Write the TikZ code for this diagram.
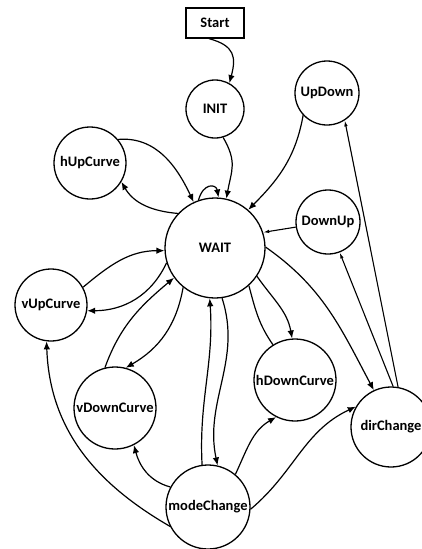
\documentclass[tikz,border=0pt]{standalone}
\usepackage{fontspec}
\setmainfont{Carlito}
\usetikzlibrary{arrows.meta}
\begin{document}
\begin{tikzpicture}[x=1pt,y=1pt,
  st/.style={circle,draw,line width=1.3pt,inner sep=0pt,font=\fontsize{14.5}{16}\selectfont\bfseries},
  edge/.style={line width=1.2pt,-{Latex[length=8pt,width=6.5pt]}},
  thinarr/.style={line width=1.1pt,-{Latex[length=6pt,width=3.5pt]}},
  plain/.style={line width=1.2pt}]
\useasboundingbox (0,0) rectangle (422,-549);
\node[draw,line width=1.3pt,minimum width=58pt,minimum height=30pt,inner sep=0pt,font=\fontsize{14.5}{16}\selectfont\bfseries] (start) at (215,-23) {Start};
\node[st,minimum size=58pt] (init) at (215,-109) {INIT};
\node[st,minimum size=64pt] (updown) at (327,-93) {UpDown};
\node[st,minimum size=72pt] (hup) at (90,-163) {hUpCurve};
\node[st,minimum size=100pt] (wait) at (215,-248) {WAIT};
\node[st,minimum size=64pt] (downup) at (328,-222) {DownUp};
\node[st,minimum size=72pt] (vup) at (51,-305) {vUpCurve};
\node[st,minimum size=82pt] (hdown) at (295,-380) {hDownCurve};
\node[st,minimum size=82pt] (vdown) at (115,-408) {vDownCurve};
\node[st,minimum size=80pt] (dir) at (391,-427) {dirChange};
\node[st,minimum size=84pt] (mode) at (208,-507) {modeChange};

\draw[edge] ([xshift=-6pt]start.south) to[out=-15,in=75,looseness=1.4] (init.61);
\draw[edge] (init.-74) to[out=-60,in=80,looseness=1.2] (wait.77);
\draw[edge] (wait.109) .. controls +(75:18) and +(100:14) .. (wait.86);
\draw[edge] (hup.40) to[out=5,in=115] (wait.115);
\draw[edge] (wait.137) to[out=175,in=-60] (hup.-31);
\draw[edge] (updown.-137) to[out=-100,in=45] (wait.49);
\draw[thinarr] (downup.189) -- (wait.18);
\draw[thinarr] (dir.80) -- (updown.-57);
\draw[thinarr] (dir.87) -- (downup.-69);
\draw[edge] (wait.1) to[out=-35,in=118] (dir.115);
\draw[edge] (wait.-34) to[out=-55,in=100] (hdown.94);
\draw[plain] (hdown.122) to[out=125,in=-75] (wait.-48);
\draw[edge] (vup.29) to[out=40,in=180] (wait.183);
\draw[edge] (wait.197) to[out=-115,in=0] (vup.-9);
\draw[edge] (vdown.104) to[out=70,in=220] (wait.216);
\draw[edge] (wait.231) to[out=-100,in=30] (vdown.75);
\draw[edge] (wait.-82) to[out=-72,in=102] (mode.77);
\draw[edge] (mode.98) to[out=93,in=-86] (wait.-96);
\draw[edge] (mode.152) to[out=165,in=-75] (vdown.-63);
\draw[edge] (mode.50) to[out=65,in=210] (hdown.-117);
\draw[edge] (mode.-3) to[out=40,in=205] (dir.150);
\draw[edge] (mode.207) to[out=150,in=-88] (vup.-97);
\end{tikzpicture}
\end{document}
